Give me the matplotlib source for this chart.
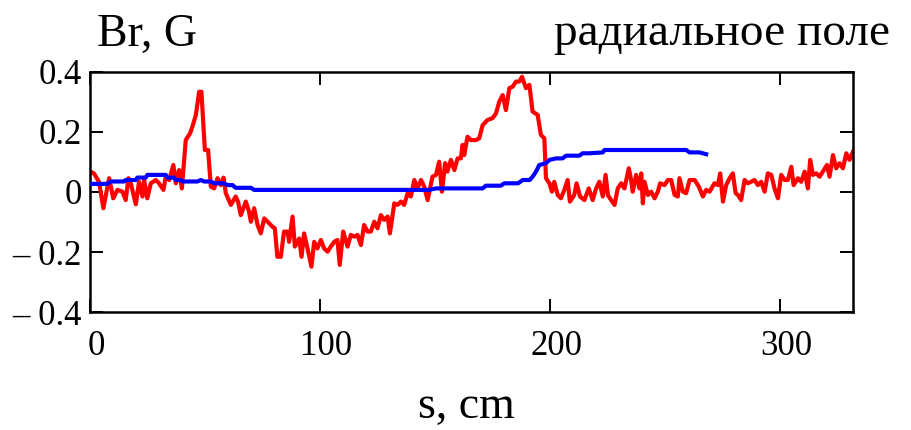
import matplotlib
matplotlib.use("Agg")
from matplotlib import pyplot as plt
from matplotlib import transforms

# radial field Br (G) along s (cm), red trace
s_red = [
    0.0, 1.7, 3.9, 5.8, 8.3, 10.1, 11.9, 14.1, 15.5, 16.7, 17.7, 19.9, 21.3,
    22.8, 23.5, 24.9, 26.4, 28.6, 30.0, 31.9, 32.9, 34.4, 36.2, 37.3, 38.7,
    39.9, 41.6, 43.5, 44.5, 46.0, 47.4, 48.4, 49.9, 51.3, 52.5, 53.9, 55.4,
    56.8, 58.0, 59.0, 61.2, 63.3, 64.3, 65.5, 67.7, 69.1, 69.9, 71.3, 72.8,
    74.2, 75.7, 77.8, 79.3, 80.3, 81.4, 82.9, 84.3, 85.8, 86.5, 88.0, 89.0,
    90.9, 91.9, 93.0, 94.5, 96.2, 97.4, 98.8, 100.3, 101.7, 103.2, 104.6,
    106.1, 107.5, 108.5, 110.0, 111.9, 113.3, 114.8, 116.2, 117.7, 119.1,
    120.6, 122.0, 123.5, 124.9, 126.4, 127.8, 129.3, 130.3, 132.2, 133.6,
    135.1, 136.5, 138.0, 139.4, 140.9, 142.3, 143.8, 145.2, 146.7, 148.8,
    150.3, 151.7, 152.9, 154.3, 155.3, 156.8, 158.3, 159.7, 161.1, 161.9,
    162.6, 164.0, 165.5, 167.7, 169.1, 170.6, 172.7, 174.9, 176.4, 177.8,
    179.3, 180.7, 182.2, 183.6, 185.1, 186.5, 187.7, 189.4, 190.9, 192.3,
    194.5, 195.9, 197.4, 198.1, 199.6, 200.7, 201.7, 203.2, 204.6, 206.1,
    207.5, 208.5, 210.4, 211.4, 212.9, 214.8, 216.7, 218.4, 219.9, 221.3,
    222.8, 224.0, 225.0, 226.4, 227.9, 229.3, 230.8, 232.2, 234.1, 235.1,
    235.8, 237.3, 238.7, 239.5, 240.2, 240.9, 242.4, 243.8, 245.3, 246.7,
    247.7, 249.6, 251.1, 252.5, 254.0, 255.4, 256.1, 257.6, 259.0, 260.5,
    262.7, 264.5, 266.3, 267.7, 269.2, 271.3, 272.8, 273.8, 275.0, 276.4,
    277.9, 279.3, 280.5, 281.5, 282.9, 284.4, 285.8, 287.3, 288.7, 290.2,
    291.6, 293.1, 294.5, 296.0, 297.4, 298.9, 300.3, 301.8, 303.2, 304.7,
    305.7, 307.6, 309.0, 310.5, 311.9, 312.9, 314.1, 315.6, 317.0, 318.4,
    320.2, 321.3, 322.8, 324.2, 325.7, 327.1, 328.6, 330.0, 331.5,
]
br_red = [
    0.068, 0.062, 0.034, -0.054, 0.046, -0.021, 0.007, 0.001, -0.027, 0.046,
    0.029, -0.041, 0.034, -0.015, 0.040, -0.021, 0.029, 0.040, 0.029, 0.007,
    0.051, 0.040, 0.090, 0.029, 0.073, 0.012, 0.173, 0.196, 0.218, 0.257,
    0.334, 0.334, 0.140, 0.140, 0.018, 0.012, 0.046, 0.023, 0.048, -0.004,
    -0.043, -0.015, -0.032, -0.077, -0.032, -0.066, -0.099, -0.054, -0.110,
    -0.138, -0.088, -0.104, -0.116, -0.121, -0.216, -0.216, -0.132, -0.132,
    -0.166, -0.082, -0.182, -0.155, -0.216, -0.138, -0.188, -0.249, -0.166,
    -0.188, -0.160, -0.188, -0.199, -0.182, -0.166, -0.160, -0.243, -0.132,
    -0.182, -0.143, -0.149, -0.143, -0.177, -0.110, -0.132, -0.132, -0.099,
    -0.121, -0.077, -0.093, -0.082, -0.138, -0.038, -0.043, -0.032, -0.043,
    -0.004, -0.015, 0.040, 0.012, 0.040, 0.018, -0.027, 0.051, 0.057, 0.101,
    0.001, 0.096, 0.068, 0.107, 0.073, 0.112, 0.112, 0.157, 0.123, 0.184,
    0.173, 0.173, 0.179, 0.223, 0.240, 0.246, 0.262, 0.301, 0.323, 0.273,
    0.346, 0.351, 0.368, 0.368, 0.384, 0.346, 0.357, 0.268, 0.257, 0.190,
    0.179, 0.046, 0.029, 0.001, 0.034, -0.010, -0.021, 0.007, 0.040, -0.032,
    -0.010, 0.029, -0.015, -0.027, 0.012, -0.027, 0.012, 0.034, -0.015,
    0.057, -0.010, -0.027, -0.043, 0.012, 0.029, 0.012, 0.079, 0.040, 0.001,
    0.057, 0.012, 0.062, -0.038, 0.034, -0.010, 0.001, -0.021, 0.001, 0.029,
    0.023, 0.040, 0.040, -0.010, -0.015, 0.046, 0.001, -0.004, 0.040, 0.040,
    0.018, -0.015, 0.007, 0.001, 0.029, 0.023, 0.062, -0.032, 0.023, 0.046,
    0.062, -0.004, -0.010, -0.027, 0.040, 0.029, 0.034, 0.040, 0.023, 0.034,
    0.001, 0.062, 0.057, 0.012, -0.021, 0.057, 0.040, 0.040, 0.084, 0.023,
    0.046, 0.034, 0.068, 0.012, 0.107, 0.057, 0.062, 0.051, 0.068, 0.090,
    0.051, 0.123, 0.079, 0.096, 0.079, 0.129, 0.107, 0.134,
]

# blue trace (smooth, ends near s = 268)
s_blue = [
    0.0, 7.5, 9.0, 14.8, 15.5, 19.9, 20.6, 24.2, 24.9, 32.9, 33.6, 36.5,
    37.3, 39.4, 40.1, 46.7, 48.1, 49.6, 52.5, 53.9, 58.3, 59.7, 61.9, 63.3,
    69.9, 71.3, 147.4, 150.3, 170.6, 172.0, 178.5, 180.0, 186.0, 188.0,
    191.0, 192.3, 193.8, 195.2, 198.1, 199.6, 202.5, 205.3, 206.8, 212.6,
    214.0, 217.0, 222.8, 223.5, 259.0, 260.5, 264.8, 267.7,
]
br_blue = [
    0.027, 0.027, 0.035, 0.035, 0.040, 0.040, 0.048, 0.048, 0.057, 0.057,
    0.048, 0.048, 0.040, 0.040, 0.035, 0.035, 0.040, 0.035, 0.035, 0.029,
    0.029, 0.023, 0.023, 0.014, 0.014, 0.007, 0.007, 0.012, 0.012, 0.021,
    0.021, 0.029, 0.029, 0.040, 0.040, 0.051, 0.068, 0.090, 0.096, 0.107,
    0.112, 0.112, 0.121, 0.121, 0.129, 0.129, 0.132, 0.140, 0.140, 0.132,
    0.132, 0.126,
]

x_ticks = [0, 100, 200, 300]
y_ticks = [-0.4, -0.2, 0, 0.2, 0.4]
y_tick_labels = ["\u2013 0.4", "\u2013 0.2", "0", "0.2", "0.4"]

plt.rcParams["font.family"] = ["Liberation Serif", "DejaVu Serif"]

fig = plt.figure(figsize=(9.12, 4.30), dpi=100)
ax = fig.add_axes([0.0987, 0.2744, 0.8366, 0.5582])

ax.plot(s_red, br_red, color="#ff0000", linewidth=3.0, zorder=2)
ax.plot(s_blue, br_blue, color="#0000ff", linewidth=3.0, zorder=3)

ax.set_xlim(0, 331.5)
ax.set_ylim(-0.4, 0.4)

ax.set_xticks(x_ticks)
ax.set_yticks(y_ticks)
ax.set_yticklabels(y_tick_labels)
ax.tick_params(axis="both", direction="in", length=9.5, width=1.4,
               labelsize=25, top=True, right=True, color="black")
ax.tick_params(axis="x", pad=13)
ax.tick_params(axis="y", pad=6)
for lbl in ax.get_xticklabels():
    lbl.set_transform(lbl.get_transform() +
                      transforms.ScaledTranslation(6 / 100, 0, fig.dpi_scale_trans))
for sp in ax.spines.values():
    sp.set_linewidth(1.8)
    sp.set_color("black")

fig.text(0.106, 0.893, "Br, G", fontsize=33, ha="left", va="baseline")
fig.text(0.976, 0.895, "радиальное поле", fontsize=34, ha="right", va="baseline")
fig.text(0.511, 0.028, "s, cm", fontsize=33, ha="center", va="baseline")

fig.savefig("out.png", dpi=100)
